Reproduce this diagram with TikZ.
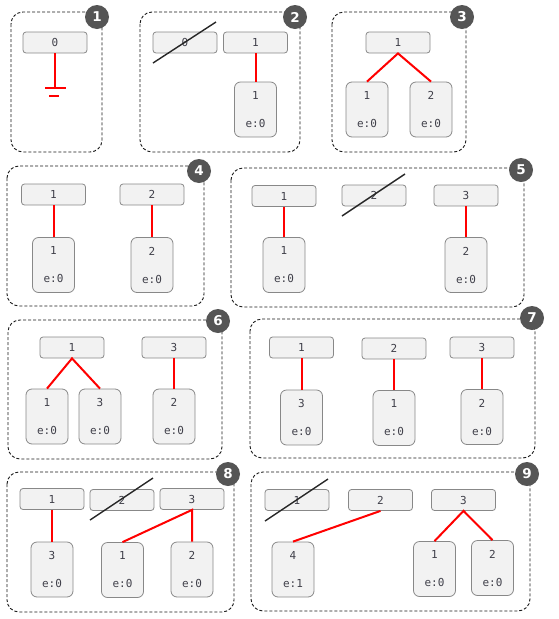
\documentclass[tikz,border=0pt]{standalone}
\usepackage{fontspec}
\setmainfont{DejaVu Sans Mono}
\newfontfamily\badgefont{DejaVu Sans}
\definecolor{boxfill}{HTML}{F2F2F2}
\definecolor{boxline}{HTML}{888888}
\definecolor{txt}{HTML}{40404A}
\definecolor{badgefill}{HTML}{555555}
\definecolor{linkred}{HTML}{FF0000}
\tikzset{
  keybox/.style={draw=boxline, fill=boxfill, rounded corners=3pt, minimum width=64pt, minimum height=21pt, inner sep=0pt, line width=0.8pt, text=txt, font=\fontsize{11}{13}\selectfont},
  itembox/.style={draw=boxline, fill=boxfill, rounded corners=6pt, minimum width=42pt, minimum height=55pt, inner sep=0pt, line width=0.8pt, align=center, text=txt, font=\fontsize{11}{13}\selectfont},
  panel/.style={draw=black!90, dash pattern=on 3pt off 2pt, rounded corners=12pt, line width=0.9pt},
  badge/.style={circle, fill=badgefill, text=white, minimum size=24pt, inner sep=0pt, font=\badgefont\fontsize{13.5}{15}\selectfont\bfseries},
  edge/.style={draw=linkred, line width=2pt},
  strike/.style={draw=black!85, line width=1.4pt},
}
\begin{document}
\begin{tikzpicture}[x=1pt,y=-1pt]
  \useasboundingbox (0,0) rectangle (558,619);
  % dashed panels and numbered badges
  \foreach \n/\xa/\ya/\xb/\yb/\bx/\by in {1/11/12/102/152/97/17, 2/140/12/300/152/295/17, 3/332/12/466/152/462/17,
      4/7/166/204/306/199/171, 5/231/168/524/307/521/170, 6/8/320/222/459/218/321,
      7/250/319/535/458/532/318, 8/7/472/234/612/228/474, 9/251/472/530/611/527/474}{
    \draw[panel] (\xa,\ya) rectangle (\xb,\yb);
    \node[badge] (b\n) at (\bx,\by) {\n};
  }

  % 1
  \node[keybox] (p1k0) at (55,42.5) {0};
  \coordinate (p1g) at (55,88);
  \draw[edge] (p1k0.south) -- (p1g);
  \draw[edge] (45,88) -- (66,88); \draw[edge] (49,96) -- (59,96); %ground

  % 2
  \node[keybox] (p2k0) at (185,42.5) {0};
  \node[keybox] (p2k1) at (255.5,42.5) {1};
  \node[itembox] (p2c1) at (255.5,109.5) {1\\[15pt]e:0};
  \draw[edge] (p2k1.south) -- (p2c1.north);
  \draw[strike] (153,63) -- (216,22);

  % 3
  \node[keybox] (p3k1) at (398,42.5) {1};
  \node[itembox] (p3c1) at (367,109.5) {1\\[15pt]e:0};
  \node[itembox] (p3c2) at (431,109.5) {2\\[15pt]e:0};
  \draw[edge] (p3c1.north) -- (p3k1.south) -- (p3c2.north);

  % 4
  \node[keybox] (p4k1) at (53.5,194.5) {1};
  \node[keybox] (p4k2) at (152,194.5) {2};
  \node[itembox] (p4c1) at (53.5,265) {1\\[15pt]e:0};
  \node[itembox] (p4c2) at (152,265) {2\\[15pt]e:0};
  \draw[edge] (p4k1.south) -- (p4c1.north);
  \draw[edge] (p4k2.south) -- (p4c2.north);

  % 5
  \node[keybox] (p5k1) at (284,196) {1};
  \node[keybox] (p5k2) at (374,195.5) {2};
  \node[keybox] (p5k3) at (466,195.5) {3};
  \node[itembox] (p5c1) at (284,265) {1\\[15pt]e:0};
  \node[itembox] (p5c2) at (466,265) {2\\[15pt]e:0};
  \draw[edge] (p5k1.south) -- (p5c1.north);
  \draw[edge] (p5k3.south) -- (p5c2.north);
  \draw[strike] (342,216) -- (405,174);

  % 6
  \node[keybox] (p6k1) at (72,347.5) {1};
  \node[keybox] (p6k3) at (174,347.5) {3};
  \node[itembox] (p6c1) at (47,416.5) {1\\[15pt]e:0};
  \node[itembox] (p6c3) at (100,416.5) {3\\[15pt]e:0};
  \node[itembox] (p6c2) at (174,416.5) {2\\[15pt]e:0};
  \draw[edge] (p6c1.north) -- (p6k1.south) -- (p6c3.north);
  \draw[edge] (p6k3.south) -- (p6c2.north);

  % 7
  \node[keybox] (p7k1) at (301.5,347.5) {1};
  \node[keybox] (p7k2) at (394,348.5) {2};
  \node[keybox] (p7k3) at (482,347.5) {3};
  \node[itembox] (p7c3) at (301.5,417.5) {3\\[15pt]e:0};
  \node[itembox] (p7c1) at (394,418) {1\\[15pt]e:0};
  \node[itembox] (p7c2) at (482,417) {2\\[15pt]e:0};
  \draw[edge] (p7k1.south) -- (p7c3.north);
  \draw[edge] (p7k2.south) -- (p7c1.north);
  \draw[edge] (p7k3.south) -- (p7c2.north);

  % 8
  \node[keybox] (p8k1) at (52,499) {1};
  \node[keybox] (p8k2) at (122,500) {2};
  \node[keybox] (p8k3) at (192,499) {3};
  \node[itembox] (p8c3) at (52,569.5) {3\\[15pt]e:0};
  \node[itembox] (p8c1) at (122.5,570) {1\\[15pt]e:0};
  \node[itembox] (p8c2) at (192,569.5) {2\\[15pt]e:0};
  \draw[edge] (p8k1.south) -- (p8c3.north);
  \draw[edge] (p8c1.north) -- (p8k3.south) -- (p8c2.north);
  \draw[strike] (90,520) -- (153,478);

  % 9
  \node[keybox] (p9k1) at (297,500) {1};
  \node[keybox] (p9k2) at (380.5,500) {2};
  \node[keybox] (p9k3) at (463.5,500) {3};
  \node[itembox] (p9c4) at (293,569.5) {4\\[15pt]e:1};
  \node[itembox] (p9c1) at (434.5,569) {1\\[15pt]e:0};
  \node[itembox] (p9c2) at (492.5,568) {2\\[15pt]e:0};
  \draw[edge] (p9k2.south) -- (p9c4.north);
  \draw[edge] (p9c1.north) -- (p9k3.south) -- (p9c2.north);
  \draw[strike] (265,521) -- (328,479);
\end{tikzpicture}
\end{document}
